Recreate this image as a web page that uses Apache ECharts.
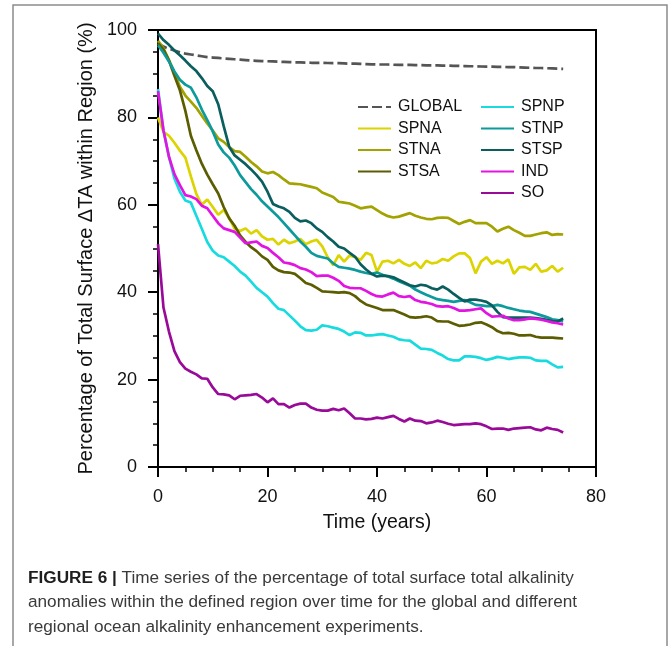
<!DOCTYPE html>
<html><head><meta charset="utf-8">
<script src="https://cdn.jsdelivr.net/npm/echarts@6/dist/echarts.min.js"></script>
<style>html,body{margin:0;padding:0;background:#fff}#c{width:672px;height:646px}</style>
</head><body><div id="c"></div>
<script>
const years = [0,1,2,3,4,5,6,7,8,9,10,11,12,13,14,15,16,17,18,19,20,21,22,23,24,25,26,27,28,29,30,31,32,33,34,35,36,37,38,39,40,41,42,43,44,45,46,47,48,49,50,51,52,53,54,55,56,57,58,59,60,61,62,63,64,65,66,67,68,69,70,71,72,73,74];

const GLOBAL = [97,96.2,95.7,95.3,94.9,94.6,94.4,94.2,94.0,93.8,93.7,93.6,93.5,93.4,93.3,93.2,93.1,93.0,92.95,92.9,92.85,92.8,92.75,92.7,92.65,92.6,92.6,92.55,92.5,92.5,92.5,92.45,92.4,92.4,92.35,92.3,92.3,92.25,92.2,92.15,92.1,92.1,92.1,92.05,92.0,92.0,92.0,91.95,91.95,91.9,91.9,91.9,91.85,91.85,91.8,91.8,91.75,91.7,91.7,91.65,91.6,91.6,91.55,91.55,91.5,91.5,91.45,91.4,91.35,91.3,91.3,91.25,91.2,91.15,91.1];

const SPNA = [80,76.7,75.8,74.2,72.4,70.8,66.5,62.5,60,61.2,59.5,57.7,58.8,57,54.5,54,54.6,53.4,54.2,52.8,52,52.2,50.9,52,51.2,51.6,52.2,51,51.6,52,50.5,48,46.2,48.5,47,48.4,48,47.4,49,48.5,44.7,47,47.2,46.6,47.4,46.5,46,46.8,45.5,47.2,46.6,46.8,47.6,47.2,48.2,48.9,48.9,47.8,44.3,47,48,46.5,47.2,46.6,47.5,44.2,45.7,45.8,45.1,46.5,44.7,45,46,44.7,45.6];

const STNA = [97.5,95.8,93.2,90.2,87,85,83.6,82.2,80.4,78.6,77,75.2,74.4,73.2,72.3,72.1,71,69.8,68.8,67.6,67.2,67.5,66.8,65.8,64.9,64.8,64.7,64.4,64.1,63.8,62.8,62.3,61.8,60.7,60.5,60.3,59.8,59.2,59.4,59.6,58.8,58,57.4,57.1,57.3,57.7,58.1,57.5,57.1,56.8,56.7,57,57.1,57,56.3,55.6,56.1,56.5,55.8,55.8,55.8,55,53.9,54.5,55,54.2,53.6,52.9,52.9,53.2,53.5,53.7,53.1,53.3,53.2];

const STSA = [97,95.5,93,89.5,86.2,81.5,75.8,72.5,69.4,66.9,64.7,62.6,59.5,56.9,55.2,53,51.5,50.3,49.4,48.2,47.4,45.8,45,44.6,44.5,44.2,43.2,42.1,41.7,41,40.2,40.1,40,39.9,40,39.8,39.1,38,37.2,36.8,36.4,35.9,35.9,35.9,35.4,34.9,34.3,34.2,34.3,34.5,34.2,33.4,33.3,33.3,32.8,32.3,32.4,32.6,33,33.1,32.6,32,31.1,30.6,30.7,30.5,30.1,30.1,30.2,29.8,29.6,29.6,29.6,29.5,29.4];

const SPNP = [86.5,77,71,66,63,61,60.5,57.5,54.5,51.5,49.5,48.4,48.0,47,46,44.7,43.8,42.4,41,40,39,37.5,36.2,35.9,34.7,33.5,32.2,31.3,31.2,31.4,32.4,32.2,31.9,31.6,31.0,30.2,30.8,30.7,30.1,30.1,30.3,30.4,30.1,29.8,29.2,29.0,28.9,28.0,27.1,27.0,26.8,26.1,25.5,24.7,24.4,24.4,25.3,25.3,25.2,24.9,24.5,24.8,25.2,25.0,24.7,24.9,25.1,25.1,25.0,24.4,24.3,24.3,23.5,22.8,22.9];

const STNP = [96.5,94.8,92.8,90.5,88.6,87.5,86.8,84.6,81.8,79.4,76.8,73.8,72,70.8,69,66.8,65.2,63.6,62.3,60.8,59.6,58.4,57.2,55.8,54.4,53,51.6,50.4,49,48.3,48,47.7,46.6,45.8,45.6,45.4,45.1,44.7,44.4,44.2,44.5,44,43.6,43.1,42.5,42,41.5,40.6,40,39.4,38.9,38.4,38.2,38,37.8,38,38.2,37.7,37.1,37,36.8,36.8,37.1,36.8,36.4,36.1,35.8,35.6,35.5,35.1,34.7,34.3,33.8,33.6,33.3];

const STSP = [99.2,97.7,96.6,95.3,94.2,93,91.7,90.6,89,87.2,86,83,78,73.3,71.3,70.3,69.3,68.1,66.8,65.3,63,60.2,59.6,59.2,58.4,57,56.2,56.4,55.8,54.6,53.8,52.6,51.6,50.4,50,49,48.1,46.4,45.2,44.2,43.6,43.8,43.7,43.4,42.8,42.2,41.6,41.3,41.7,41.5,40.9,40.6,41.3,40.6,39.6,38.7,37.9,38.3,38.3,38.1,37.8,37,35.5,34.3,34.2,34.2,34.2,34.2,34.2,34.1,33.9,33.7,33.4,33.3,34];

const IND = [86,77,71,67,64.5,62.2,61.9,61.3,59.8,59.2,57.5,55.8,54.6,54.2,53.8,52.5,51.2,51.4,51.6,50.6,50.1,49,48,46.8,46.6,46.2,45.5,45.2,44.6,43.7,43.8,43.8,43.3,42.6,41.4,41.0,40.9,40.9,40.3,39.6,39.1,39.0,39.5,39.9,39.1,38.9,39.1,38.2,37.8,37.6,37.3,36.8,36.7,36.8,36.4,35.8,35.8,35.9,36.1,36.3,35.2,34.4,34.5,34.6,34.0,33.6,33.6,33.8,34.0,33.9,33.7,33.4,33.1,32.9,32.6];

const SO = [51,36.5,31,26.5,24,22.5,21.8,21.2,20.3,20.2,18.2,16.7,16.6,16.4,15.5,16.3,16.4,16.5,16.7,15.9,14.8,15.7,14.4,14.4,13.6,14.2,14.5,14.5,13.6,13.1,12.9,12.9,13.3,13.0,13.4,12.3,11.1,11.1,10.9,11.0,11.3,11.1,11.4,11.7,11.0,10.4,11.1,10.6,10.5,10.0,10.2,10.6,10.3,9.9,9.6,9.7,9.8,9.8,10.0,9.8,9.3,8.7,8.8,8.8,8.5,8.8,8.9,9.0,9.1,8.6,8.4,9.0,8.7,8.5,7.9];

const xTicks = [0, 20, 40, 60, 80];
const yTicks = [0, 20, 40, 60, 80, 100];

const seriesDefs = [
  {name: 'GLOBAL', values: GLOBAL, color: '#555555', dash: [10, 4]},
  {name: 'SPNA', values: SPNA, color: '#dcd400'},
  {name: 'STNA', values: STNA, color: '#a2a200'},
  {name: 'STSA', values: STSA, color: '#5c5c00'},
  {name: 'SPNP', values: SPNP, color: '#18dbe0'},
  {name: 'STNP', values: STNP, color: '#0c9a9c'},
  {name: 'STSP', values: STSP, color: '#0a5e5e'},
  {name: 'IND', values: IND, color: '#e214e2'},
  {name: 'SO', values: SO, color: '#990a99'}
];

const FONT = '"Liberation Sans", Arial, Helvetica, sans-serif';
const chart = echarts.init(document.getElementById('c'), null, {renderer: 'canvas'});

const series = seriesDefs.map(function (d) {
  return {
    name: d.name,
    type: 'line',
    symbol: 'none',
    data: years.map(function (y, i) { return [y, d.values[i]]; }),
    lineStyle: {color: d.color, width: 2.7, type: d.dash || 'solid'},
    itemStyle: {color: d.color},
    emphasis: {disabled: true}
  };
});

const legendBase = {
  orient: 'vertical', itemWidth: 33, itemHeight: 14, itemGap: 5.5, padding: 0,
  itemStyle: {opacity: 0},
  textStyle: {fontSize: 16, color: '#111', fontFamily: FONT, padding: [0, 0, 0, 2]},
  selectedMode: false
};

chart.setOption({
  animation: false,
  backgroundColor: '#fff',
  textStyle: {fontFamily: FONT},
  grid: {left: 158, right: 76, top: 30, bottom: 179, show: true, borderColor: '#000', borderWidth: 2},
  legend: [
    Object.assign({}, legendBase, {data: ['GLOBAL', 'SPNA', 'STNA', 'STSA'], left: 357, top: 99}),
    Object.assign({}, legendBase, {data: ['SPNP', 'STNP', 'STSP', 'IND', 'SO'], left: 480, top: 99})
  ],
  xAxis: {
    type: 'value', min: xTicks[0], max: xTicks[xTicks.length - 1], interval: 20,
    name: 'Time (years)', nameLocation: 'middle', nameGap: 46,
    nameTextStyle: {fontSize: 19.5, color: '#111', fontFamily: FONT},
    axisLine: {show: true, lineStyle: {color: '#000', width: 2}},
    axisTick: {show: true, length: 10, lineStyle: {color: '#000', width: 2}},
    minorTick: {show: true, splitNumber: 4, length: 5, lineStyle: {color: '#000', width: 1.5}},
    axisLabel: {fontSize: 18, color: '#111', margin: 21, fontFamily: FONT},
    splitLine: {show: false}
  },
  yAxis: {
    type: 'value', min: yTicks[0], max: yTicks[yTicks.length - 1], interval: 20,
    name: 'Percentage of Total Surface \u0394TA within Region (%)', nameLocation: 'middle', nameGap: 48, nameRotate: 90,
    nameTextStyle: {fontSize: 20, color: '#111', fontFamily: FONT},
    axisLine: {show: true, lineStyle: {color: '#000', width: 2}},
    axisTick: {show: true, length: 10, lineStyle: {color: '#000', width: 2}},
    minorTick: {show: true, splitNumber: 4, length: 5, lineStyle: {color: '#000', width: 1.5}},
    axisLabel: {fontSize: 18, color: '#111', margin: 21, fontFamily: FONT},
    splitLine: {show: false}
  },
  graphic: [
    {type: 'rect', silent: true, z: 100, shape: {x: 13, y: 5, width: 654, height: 660},
     style: {fill: 'none', stroke: '#8c8c8c', lineWidth: 1.5}},
    {type: 'text', silent: true, left: 28, top: 566, z: 100,
     style: {
       text: '{b|FIGURE 6 |} Time series of the percentage of total surface total alkalinity\nanomalies within the defined region over time for the global and different\nregional ocean alkalinity enhancement experiments.',
       font: '17.2px ' + FONT, fill: '#3a3a3a', lineHeight: 24.5,
       rich: {b: {fontWeight: 'bold', fontSize: 17.2, fill: '#1e1e1e', fontFamily: FONT, lineHeight: 24.5}}
     }}
  ],
  series: series
});
</script></body></html>
